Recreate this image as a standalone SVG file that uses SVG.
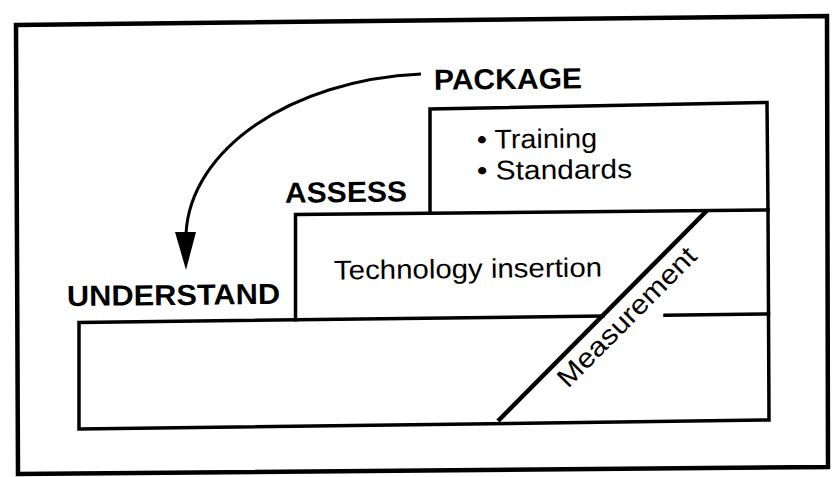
<svg xmlns="http://www.w3.org/2000/svg" width="832" height="477" viewBox="0 0 832 477">
<style>
.ln{fill:none;stroke:#000;stroke-width:3.5;stroke-linejoin:miter;stroke-linecap:square}
.b{font-family:"Liberation Sans",Arial,sans-serif;font-weight:bold;font-size:29px;fill:#000}
.r{font-family:"Liberation Sans",Arial,sans-serif;font-size:27px;fill:#000}
</style>
<rect x="0" y="0" width="832" height="477" fill="#fff"/>
<g id="frame">
<polygon points="16,25 827,16 828,467 18,474" fill="none" stroke="#000" stroke-width="4.5"/>
</g>
<g id="understand">
<polyline class="ln" points="603,316 79,322.5 79,429 769,420 768.5,314 665,315.3"/>
<text class="b" x="67" y="305" textLength="213" lengthAdjust="spacingAndGlyphs" transform="rotate(-0.6 170 295)">UNDERSTAND</text>
</g>
<g id="assess">
<polyline class="ln" points="295.5,319.8 295.5,214.5 768,210 768.5,314"/>
<text class="b" x="285" y="202" textLength="122" lengthAdjust="spacingAndGlyphs" transform="rotate(-0.6 345 192)">ASSESS</text>
<text class="r" x="334" y="278" font-size="28" textLength="268" lengthAdjust="spacingAndGlyphs" transform="rotate(-0.6 468 268)">Technology insertion</text>
</g>
<g id="package">
<polyline class="ln" points="430,213.2 430,109 767,102.5 768,210"/>
<text class="b" x="434" y="89" textLength="148" lengthAdjust="spacingAndGlyphs" transform="rotate(-0.6 508 80)">PACKAGE</text>
<text class="r" x="477" y="148" textLength="120" lengthAdjust="spacingAndGlyphs" transform="rotate(-0.6 537 140)">• Training</text>
<text class="r" x="477" y="179" textLength="155" lengthAdjust="spacingAndGlyphs" transform="rotate(-0.6 555 170)">• Standards</text>
</g>
<g id="measurement">
<line x1="498" y1="421" x2="707" y2="210.5" stroke="#000" stroke-width="4.5"/>
<text class="r" transform="translate(568 389) rotate(-45.2)" textLength="185" lengthAdjust="spacingAndGlyphs">Measurement</text>
</g>
<g id="connectors">
<path d="M421,74 C290,80 190,150 186,234" fill="none" stroke="#000" stroke-width="3"/>
<polygon points="175,232 196,232 186,270" fill="#000"/>
</g>
</svg>
